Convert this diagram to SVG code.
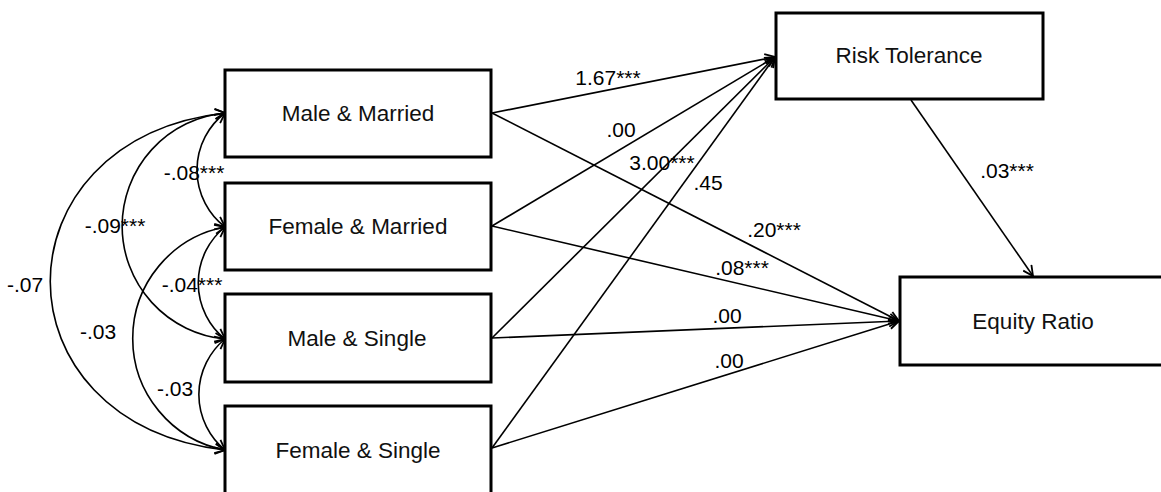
<svg xmlns="http://www.w3.org/2000/svg" width="1161" height="492" viewBox="0 0 1161 492">
<style>
.box{fill:#fff;stroke:#000;stroke-width:3}
.nl{font-family:"Liberation Sans",Arial,sans-serif;font-size:22.5px;fill:#111;text-anchor:middle}
.el{font-family:"Liberation Sans",Arial,sans-serif;font-size:21px;fill:#000;text-anchor:middle}
.c{fill:none;stroke:#000;stroke-width:1.6}
</style>
<defs>
<marker id="ah" viewBox="0 0 12 12" refX="11" refY="6" markerWidth="12" markerHeight="12" markerUnits="userSpaceOnUse" orient="auto-start-reverse">
<path d="M1,1 L11,6 L1,11" fill="none" stroke="#000" stroke-width="1.8"/>
</marker>
</defs>
<rect width="1161" height="492" fill="#fff"/>
<g id="connectors">
<path class="c" d="M225,113 A72,72 0 0 0 225,227" marker-start="url(#ah)" marker-end="url(#ah)"/>
<path class="c" d="M225,227 A72,72 0 0 0 225,339" marker-start="url(#ah)" marker-end="url(#ah)"/>
<path class="c" d="M225,339 A72,72 0 0 0 225,450" marker-start="url(#ah)" marker-end="url(#ah)"/>
<path class="c" d="M225,113 A113.5,113.5 0 0 0 225,339" marker-start="url(#ah)" marker-end="url(#ah)"/>
<path class="c" d="M225,227 A113.5,113.5 0 0 0 225,450" marker-start="url(#ah)" marker-end="url(#ah)"/>
<path class="c" d="M225,113 C-8,140 -8,423 225,450" marker-start="url(#ah)" marker-end="url(#ah)"/>
<path class="c" d="M492,113 L775,57" marker-end="url(#ah)"/>
<path class="c" d="M492,226 L775,57" marker-end="url(#ah)"/>
<path class="c" d="M492,338 L775,57" marker-end="url(#ah)"/>
<path class="c" d="M492,448 L775,57" marker-end="url(#ah)"/>
<path class="c" d="M492,113 L899,321" marker-end="url(#ah)"/>
<path class="c" d="M492,226 L899,321" marker-end="url(#ah)"/>
<path class="c" d="M492,338 L899,321" marker-end="url(#ah)"/>
<path class="c" d="M492,448 L899,321" marker-end="url(#ah)"/>
<path class="c" d="M911,100 L1033,276" marker-end="url(#ah)"/>
<text class="el" x="608" y="85">1.67***</text>
<text class="el" x="621" y="137">.00</text>
<text class="el" x="662" y="170">3.00***</text>
<text class="el" x="708" y="190">.45</text>
<text class="el" x="774" y="237">.20***</text>
<text class="el" x="742" y="275">.08***</text>
<text class="el" x="727" y="323">.00</text>
<text class="el" x="729" y="368">.00</text>
<text class="el" x="1007" y="178">.03***</text>
<text class="el" x="194" y="180">-.08***</text>
<text class="el" x="115" y="233">-.09***</text>
<text class="el" x="25" y="292">-.07</text>
<text class="el" x="192" y="292">-.04***</text>
<text class="el" x="98" y="339">-.03</text>
<text class="el" x="175" y="396">-.03</text>
</g>
<g id="male-married"><rect class="box" x="225" y="70" width="266" height="87"/><text class="nl" x="358" y="121">Male &amp; Married</text></g>
<g id="female-married"><rect class="box" x="225" y="183" width="266" height="87"/><text class="nl" x="358" y="234">Female &amp; Married</text></g>
<g id="male-single"><rect class="box" x="225" y="294" width="266" height="88"/><text class="nl" x="357" y="346">Male &amp; Single</text></g>
<g id="female-single"><rect class="box" x="225" y="406" width="266" height="92"/><text class="nl" x="358" y="458">Female &amp; Single</text></g>
<g id="risk-tolerance"><rect class="box" x="776" y="13" width="267" height="86"/><text class="nl" x="909" y="63">Risk Tolerance</text></g>
<g id="equity-ratio"><rect class="box" x="900" y="277" width="270" height="88"/><text class="nl" x="1033" y="329">Equity Ratio</text></g>
</svg>
